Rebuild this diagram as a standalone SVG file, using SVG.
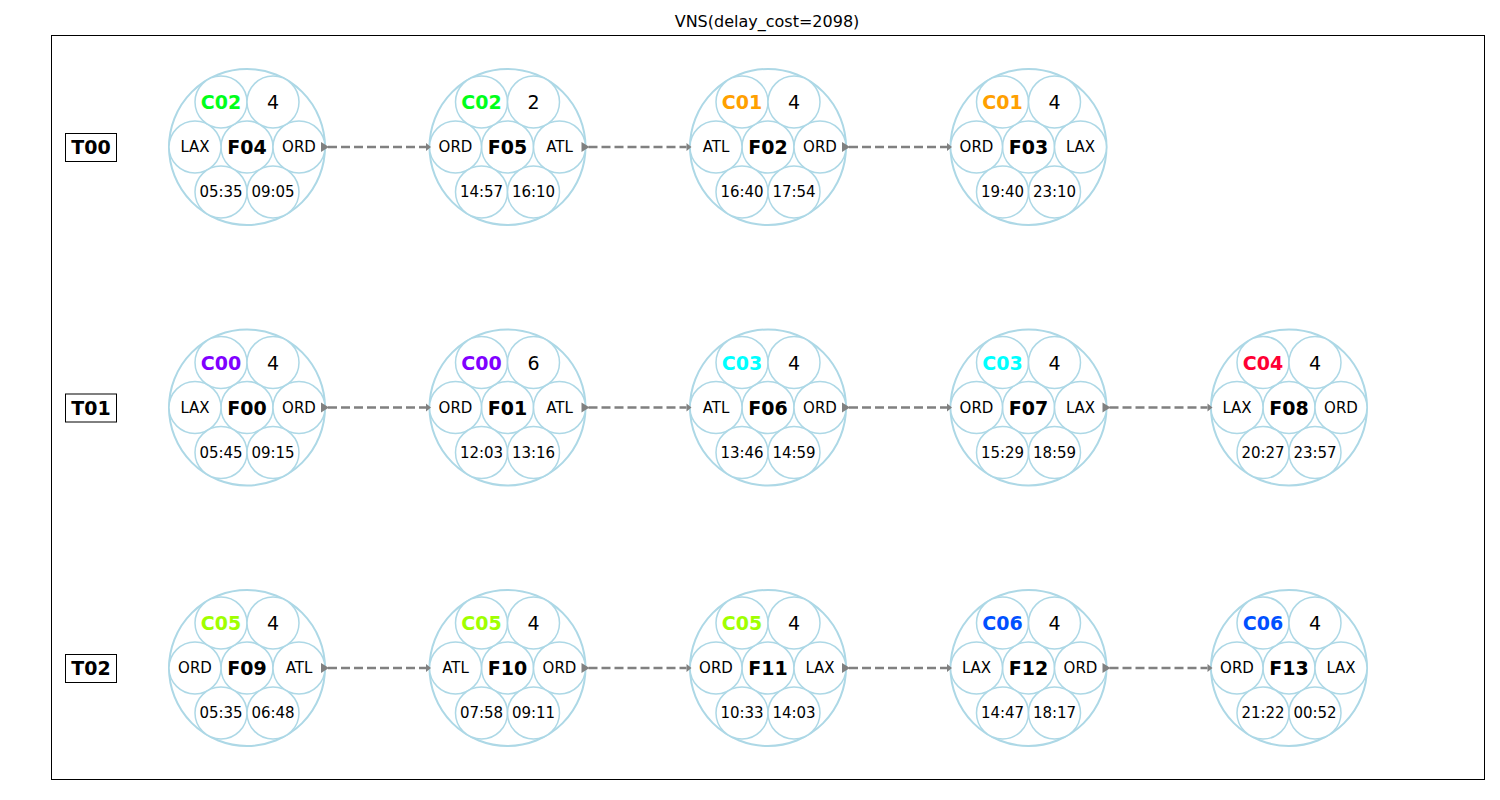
<svg xmlns="http://www.w3.org/2000/svg" width="1500" height="800" viewBox="0 0 1500 800">
<style>
text{font-family:"DejaVu Sans","Liberation Sans",sans-serif;text-anchor:middle;dominant-baseline:central;fill:#000}
.big{fill:none;stroke:#add8e6;stroke-width:2}
.sm{fill:#fff;stroke:#add8e6;stroke-width:1.5}
.ap{font-size:15px}
.tm{font-size:15px}
.fl{font-size:19px;font-weight:bold}
.cr{font-size:19px;font-weight:bold}
.ct{font-size:19px}
.lbl{font-size:19px;font-weight:bold}
.box{fill:#fff;stroke:#000;stroke-width:1}
.edge{stroke:#808080;stroke-width:2.6;stroke-dasharray:9 4;fill:none}
.head{fill:#808080}
</style>
<defs>
<g id="ring">
<circle class="big" r="78"/>
<circle class="sm" cx="0" cy="0" r="26"/>
<circle class="sm" cx="-52" cy="0" r="26"/>
<circle class="sm" cx="52" cy="0" r="26"/>
<circle class="sm" cx="-26" cy="-45" r="26"/>
<circle class="sm" cx="26" cy="-45" r="26"/>
<circle class="sm" cx="-26" cy="45" r="26"/>
<circle class="sm" cx="26" cy="45" r="26"/>
</g>
<g id="arr">
<line class="edge" x1="81" y1="0" x2="179" y2="0"/>
<polygon class="head" points="74,-5 82,0 74,5"/>
<polygon class="head" points="179,-4 184,0 179,4"/>
</g>
</defs>
<rect x="0" y="0" width="1500" height="800" fill="#fff"/>
<text x="767" y="21" style="font-size:16px">VNS(delay_cost=2098)</text>
<rect x="51.5" y="35.5" width="1433" height="744" fill="none" stroke="#000" stroke-width="1"/>

<g id="labels">
<g id="T00"><rect class="box" x="65.5" y="133.5" width="51" height="28"/><text class="lbl" x="91" y="147">T00</text></g>
<g id="T01"><rect class="box" x="65.5" y="394" width="51" height="28"/><text class="lbl" x="91" y="407.5">T01</text></g>
<g id="T02"><rect class="box" x="65.5" y="654.5" width="51" height="28"/><text class="lbl" x="91" y="668">T02</text></g>
</g>

<g id="F04" transform="translate(247,147)"><use href="#ring"/><text class="cr" x="-26" y="-45" style="fill:#00ff1a">C02</text><text class="ct" x="26" y="-45">4</text><text class="ap" x="-52" y="0">LAX</text><text class="fl" x="0" y="0">F04</text><text class="ap" x="52" y="0">ORD</text><text class="tm" x="-26" y="45">05:35</text><text class="tm" x="26" y="45">09:05</text></g>
<g id="F05" transform="translate(507.5,147)"><use href="#ring"/><text class="cr" x="-26" y="-45" style="fill:#00ff1a">C02</text><text class="ct" x="26" y="-45">2</text><text class="ap" x="-52" y="0">ORD</text><text class="fl" x="0" y="0">F05</text><text class="ap" x="52" y="0">ATL</text><text class="tm" x="-26" y="45">14:57</text><text class="tm" x="26" y="45">16:10</text></g>
<g id="F02" transform="translate(768,147)"><use href="#ring"/><text class="cr" x="-26" y="-45" style="fill:#ffa000">C01</text><text class="ct" x="26" y="-45">4</text><text class="ap" x="-52" y="0">ATL</text><text class="fl" x="0" y="0">F02</text><text class="ap" x="52" y="0">ORD</text><text class="tm" x="-26" y="45">16:40</text><text class="tm" x="26" y="45">17:54</text></g>
<g id="F03" transform="translate(1028.5,147)"><use href="#ring"/><text class="cr" x="-26" y="-45" style="fill:#ffa000">C01</text><text class="ct" x="26" y="-45">4</text><text class="ap" x="-52" y="0">ORD</text><text class="fl" x="0" y="0">F03</text><text class="ap" x="52" y="0">LAX</text><text class="tm" x="-26" y="45">19:40</text><text class="tm" x="26" y="45">23:10</text></g>

<g id="F00" transform="translate(247,407.5)"><use href="#ring"/><text class="cr" x="-26" y="-45" style="fill:#8000ff">C00</text><text class="ct" x="26" y="-45">4</text><text class="ap" x="-52" y="0">LAX</text><text class="fl" x="0" y="0">F00</text><text class="ap" x="52" y="0">ORD</text><text class="tm" x="-26" y="45">05:45</text><text class="tm" x="26" y="45">09:15</text></g>
<g id="F01" transform="translate(507.5,407.5)"><use href="#ring"/><text class="cr" x="-26" y="-45" style="fill:#8000ff">C00</text><text class="ct" x="26" y="-45">6</text><text class="ap" x="-52" y="0">ORD</text><text class="fl" x="0" y="0">F01</text><text class="ap" x="52" y="0">ATL</text><text class="tm" x="-26" y="45">12:03</text><text class="tm" x="26" y="45">13:16</text></g>
<g id="F06" transform="translate(768,407.5)"><use href="#ring"/><text class="cr" x="-26" y="-45" style="fill:#00ffff">C03</text><text class="ct" x="26" y="-45">4</text><text class="ap" x="-52" y="0">ATL</text><text class="fl" x="0" y="0">F06</text><text class="ap" x="52" y="0">ORD</text><text class="tm" x="-26" y="45">13:46</text><text class="tm" x="26" y="45">14:59</text></g>
<g id="F07" transform="translate(1028.5,407.5)"><use href="#ring"/><text class="cr" x="-26" y="-45" style="fill:#00ffff">C03</text><text class="ct" x="26" y="-45">4</text><text class="ap" x="-52" y="0">ORD</text><text class="fl" x="0" y="0">F07</text><text class="ap" x="52" y="0">LAX</text><text class="tm" x="-26" y="45">15:29</text><text class="tm" x="26" y="45">18:59</text></g>
<g id="F08" transform="translate(1289,407.5)"><use href="#ring"/><text class="cr" x="-26" y="-45" style="fill:#ff0033">C04</text><text class="ct" x="26" y="-45">4</text><text class="ap" x="-52" y="0">LAX</text><text class="fl" x="0" y="0">F08</text><text class="ap" x="52" y="0">ORD</text><text class="tm" x="-26" y="45">20:27</text><text class="tm" x="26" y="45">23:57</text></g>

<g id="F09" transform="translate(247,668)"><use href="#ring"/><text class="cr" x="-26" y="-45" style="fill:#a0ff00">C05</text><text class="ct" x="26" y="-45">4</text><text class="ap" x="-52" y="0">ORD</text><text class="fl" x="0" y="0">F09</text><text class="ap" x="52" y="0">ATL</text><text class="tm" x="-26" y="45">05:35</text><text class="tm" x="26" y="45">06:48</text></g>
<g id="F10" transform="translate(507.5,668)"><use href="#ring"/><text class="cr" x="-26" y="-45" style="fill:#a0ff00">C05</text><text class="ct" x="26" y="-45">4</text><text class="ap" x="-52" y="0">ATL</text><text class="fl" x="0" y="0">F10</text><text class="ap" x="52" y="0">ORD</text><text class="tm" x="-26" y="45">07:58</text><text class="tm" x="26" y="45">09:11</text></g>
<g id="F11" transform="translate(768,668)"><use href="#ring"/><text class="cr" x="-26" y="-45" style="fill:#a0ff00">C05</text><text class="ct" x="26" y="-45">4</text><text class="ap" x="-52" y="0">ORD</text><text class="fl" x="0" y="0">F11</text><text class="ap" x="52" y="0">LAX</text><text class="tm" x="-26" y="45">10:33</text><text class="tm" x="26" y="45">14:03</text></g>
<g id="F12" transform="translate(1028.5,668)"><use href="#ring"/><text class="cr" x="-26" y="-45" style="fill:#0050ff">C06</text><text class="ct" x="26" y="-45">4</text><text class="ap" x="-52" y="0">LAX</text><text class="fl" x="0" y="0">F12</text><text class="ap" x="52" y="0">ORD</text><text class="tm" x="-26" y="45">14:47</text><text class="tm" x="26" y="45">18:17</text></g>
<g id="F13" transform="translate(1289,668)"><use href="#ring"/><text class="cr" x="-26" y="-45" style="fill:#0050ff">C06</text><text class="ct" x="26" y="-45">4</text><text class="ap" x="-52" y="0">ORD</text><text class="fl" x="0" y="0">F13</text><text class="ap" x="52" y="0">LAX</text><text class="tm" x="-26" y="45">21:22</text><text class="tm" x="26" y="45">00:52</text></g>

<g id="connectors">
<use href="#arr" transform="translate(247,147)"/>
<use href="#arr" transform="translate(507.5,147)"/>
<use href="#arr" transform="translate(768,147)"/>
<use href="#arr" transform="translate(247,407.5)"/>
<use href="#arr" transform="translate(507.5,407.5)"/>
<use href="#arr" transform="translate(768,407.5)"/>
<use href="#arr" transform="translate(1028.5,407.5)"/>
<use href="#arr" transform="translate(247,668)"/>
<use href="#arr" transform="translate(507.5,668)"/>
<use href="#arr" transform="translate(768,668)"/>
<use href="#arr" transform="translate(1028.5,668)"/>
</g>
</svg>
